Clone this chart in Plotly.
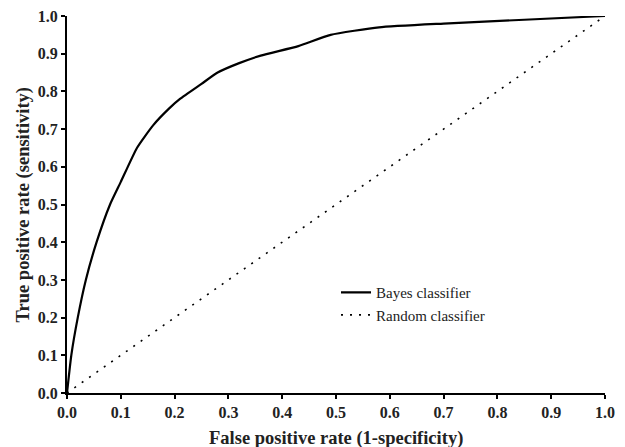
import plotly.graph_objects as go

fpr = [0.0, 0.008, 0.02, 0.035, 0.055, 0.08, 0.1, 0.13, 0.16, 0.19, 0.21, 0.25, 0.28, 0.32, 0.36, 0.43, 0.49, 0.58, 0.7, 0.85, 1.0]
tpr = [0.0, 0.1, 0.2, 0.3, 0.4, 0.5, 0.56, 0.65, 0.71, 0.755, 0.78, 0.82, 0.85, 0.875, 0.895, 0.92, 0.95, 0.97, 0.98, 0.99, 1.0]
rand_x = [0.0, 1.0]
rand_y = [0.0, 1.0]
ticks = [i / 10 for i in range(11)]
tick_text = ["%.1f" % t for t in ticks]
x_title = "False positive rate (1-specificity)"
y_title = "True positive rate (sensitivity)"

font = "Liberation Serif"

fig = go.Figure()
fig.add_trace(go.Scatter(x=fpr, y=tpr, mode="lines", name="Bayes classifier",
                         line=dict(color="black", width=2.2, shape="spline", smoothing=0.5)))
fig.add_trace(go.Scatter(x=rand_x, y=rand_y, mode="lines", name="Random classifier",
                         line=dict(color="black", width=1.6, dash="2px,7px")))

axis_common = dict(range=[0, 1.0], tickvals=ticks, ticktext=tick_text, showgrid=False, zeroline=False,
                   showline=True, linecolor="black", linewidth=2, ticks="outside", ticklen=4,
                   tickwidth=1.8, tickcolor="black", automargin=False,
                   tickfont=dict(family=font, size=16, color="#222", weight="bold"))

fig.update_layout(
    width=625, height=447,
    margin=dict(l=67, r=20, t=16, b=54),
    plot_bgcolor="white", paper_bgcolor="white",
    showlegend=True,
    legend=dict(x=0.5, y=0.31, xanchor="left", yanchor="top", bgcolor="rgba(0,0,0,0)",
                font=dict(family=font, size=15, color="#222"), tracegroupgap=0, itemwidth=30),
    xaxis=axis_common,
    yaxis=axis_common,
    annotations=[
        dict(text=x_title, xref="paper", yref="paper", x=0.5, y=-0.12, xanchor="center", yanchor="middle",
             showarrow=False, font=dict(family=font, size=18.5, color="#222", weight="bold")),
        dict(text=y_title, xref="paper", yref="paper", x=-0.08, y=0.5, xanchor="center", yanchor="middle",
             textangle=-90, showarrow=False, font=dict(family=font, size=18.5, color="#222", weight="bold")),
    ],
)

fig.write_html("out.html")
